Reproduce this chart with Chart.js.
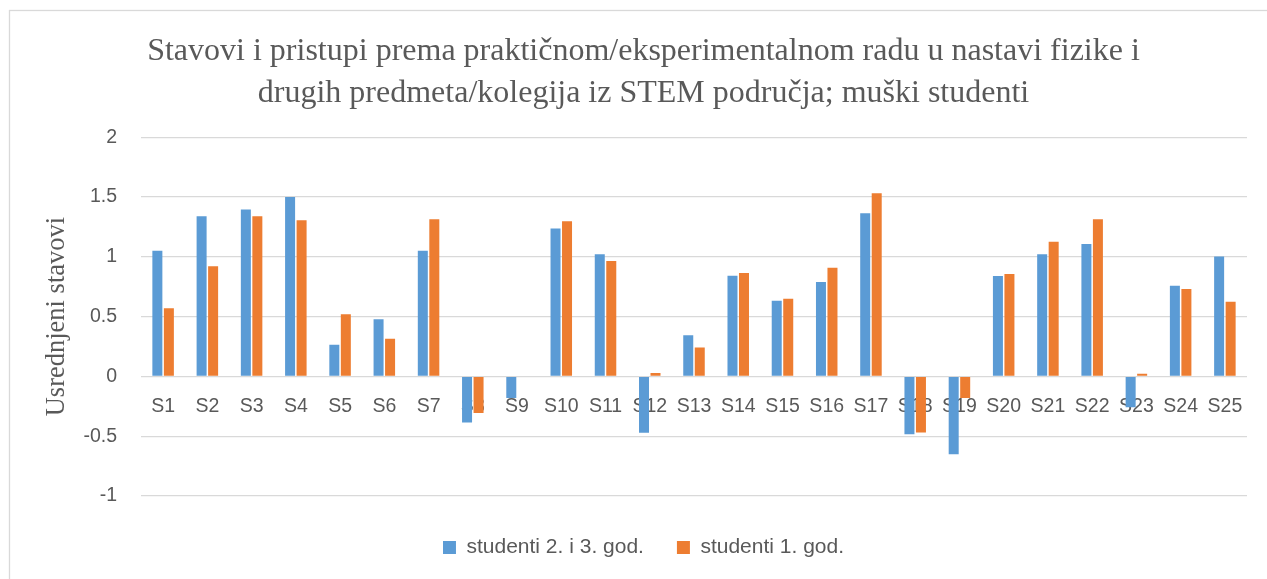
<!DOCTYPE html>
<html>
<head>
<meta charset="utf-8">
<script src="https://cdn.jsdelivr.net/npm/chart.js@4/dist/chart.umd.min.js"></script>
<style>
html,body{margin:0;padding:0;background:#fff;}
#wrap{width:1267px;height:579px;position:relative;}
</style>
</head>
<body>
<div id="wrap"><canvas id="c" width="1267" height="579"></canvas></div>
<script>
const categories = ["S1","S2","S3","S4","S5","S6","S7","S8","S9","S10","S11","S12","S13","S14","S15","S16","S17","S18","S19","S20","S21","S22","S23","S24","S25"];
const seriesNames = ["studenti 2. i 3. god.", "studenti 1. god."];
const seniors = [1.05,1.34,1.395,1.50,0.264,0.478,1.05,-0.385,-0.18,1.237,1.022,-0.472,0.345,0.842,0.633,0.789,1.364,-0.483,-0.65,0.839,1.022,1.108,-0.257,0.758,1.003];
const freshmen = [0.57,0.92,1.34,1.305,0.52,0.314,1.314,-0.305,-0.005,1.297,0.964,0.028,0.242,0.864,0.65,0.908,1.531,-0.47,-0.18,0.856,1.125,1.314,0.022,0.731,0.625];
const yTickLabels = ["-1","-0.5","0","0.5","1","1.5","2"];
const titleLines = ["Stavovi i pristupi prema praktičnom/eksperimentalnom radu u nastavi fizike i", "drugih predmeta/kolegija iz STEM područja; muški studenti"];
const yAxisTitle = "Usrednjeni stavovi";
const yMin = -1, yMax = 2, yStep = 0.5;

const frame = {
  id: 'frame',
  beforeDraw(chart) {
    const ctx = chart.ctx;
    ctx.save();
    ctx.fillStyle = '#ffffff';
    ctx.fillRect(0, 0, chart.width, chart.height);
    ctx.strokeStyle = '#d9d9d9';
    ctx.lineWidth = 1.3;
    ctx.strokeRect(9.5, 10.5, chart.width + 20, chart.height + 20);
    ctx.restore();
  }
};

const sans = "'Liberation Sans', Arial, sans-serif";
const serif = "'Liberation Serif', 'Times New Roman', serif";
const grey = '#595959';

new Chart(document.getElementById('c'), {
  type: 'bar',
  data: {
    labels: categories,
    datasets: [
      { label: seriesNames[0], data: seniors, backgroundColor: '#5b9bd5', borderWidth: 0,
        categoryPercentage: 0.52, barPercentage: 0.87 },
      { label: seriesNames[1], data: freshmen, backgroundColor: '#ed7d31', borderWidth: 0,
        categoryPercentage: 0.52, barPercentage: 0.87 }
    ]
  },
  options: {
    responsive: false,
    animation: false,
    devicePixelRatio: 1,
    layout: { padding: { left: 40, right: 20, top: 0, bottom: 11 } },
    plugins: {
      title: {
        display: true,
        text: titleLines,
        color: grey,
        font: { family: serif, size: 32, weight: 'normal', lineHeight: 1.3 },
        padding: { top: 31, bottom: 23 }
      },
      legend: {
        position: 'bottom',
        title: { display: true, text: ' ', font: { size: 1, lineHeight: 1 }, padding: { top: 4, bottom: 3 } },
        labels: {
          color: grey,
          font: { family: sans, size: 21 },
          boxWidth: 13,
          boxHeight: 13,
          padding: 33
        }
      },
      tooltip: { enabled: false }
    },
    scales: {
      x: {
        position: { y: 0 },
        z: 1,
        grid: { display: false, drawTicks: false },
        border: { display: false },
        ticks: { color: grey, font: { family: sans, size: 19.5 }, padding: 19, maxRotation: 0, autoSkip: false }
      },
      y: {
        min: yMin,
        max: yMax,
        afterFit(scale) { scale.width = 101; },
        grid: { color: '#d9d9d9', lineWidth: 1.3, drawTicks: false },
        border: { display: false },
        ticks: {
          stepSize: yStep, color: grey, font: { family: sans, size: 19.5 }, padding: 24,
          callback: (v, i) => yTickLabels[i]
        },
        title: {
          display: true,
          text: yAxisTitle,
          color: grey,
          font: { family: serif, size: 26.5, weight: 'normal', lineHeight: 1.2 },
          padding: { top: 1, bottom: 0 }
        }
      }
    }
  },
  plugins: [frame]
});
</script>
</body>
</html>
